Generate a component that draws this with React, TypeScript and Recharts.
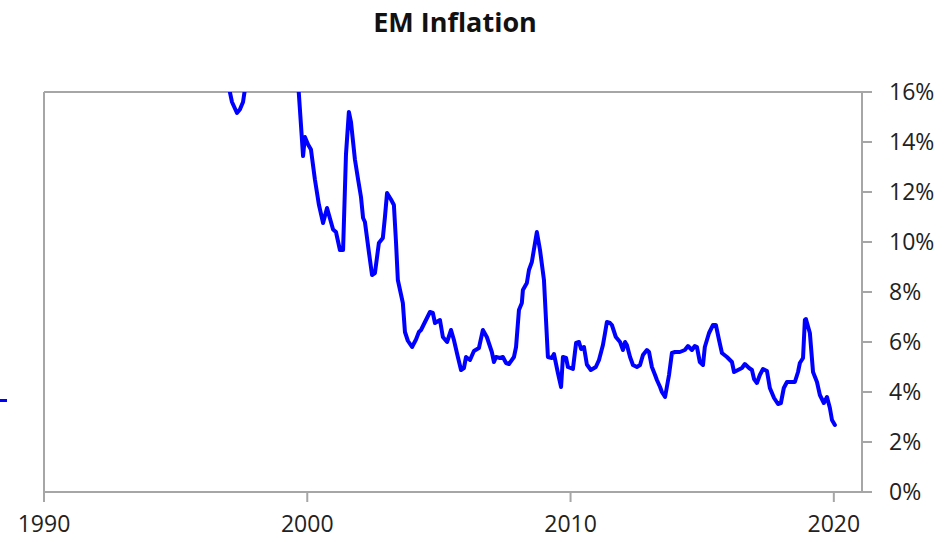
import { LineChart, Line, XAxis, YAxis, ReferenceLine } from 'recharts'

// EM inflation, % y/y (decimal year)
const years = [
  1996.0, 1996.5, 1996.9, 1997.0, 1997.14, 1997.33, 1997.44, 1997.56, 1997.63, 1997.82,
  1998.2, 1998.6, 1999.0, 1999.34, 1999.65, 1999.84, 1999.91, 2000.03, 2000.14, 2000.29,
  2000.44, 2000.6, 2000.75, 2000.98, 2001.09, 2001.24, 2001.36, 2001.47, 2001.58, 2001.66,
  2001.81, 2001.93, 2002.04, 2002.12, 2002.19, 2002.34, 2002.46, 2002.57, 2002.72, 2002.87,
  2002.95, 2003.03, 2003.18, 2003.29, 2003.37, 2003.44, 2003.56, 2003.63, 2003.71, 2003.82,
  2003.98, 2004.13, 2004.24, 2004.32, 2004.47, 2004.66, 2004.77, 2004.85, 2005.04, 2005.15,
  2005.31, 2005.46, 2005.57, 2005.72, 2005.84, 2005.95, 2006.03, 2006.18, 2006.33, 2006.52,
  2006.67, 2006.82, 2007.01, 2007.09, 2007.17, 2007.32, 2007.43, 2007.55, 2007.66, 2007.85,
  2007.93, 2008.04, 2008.15, 2008.19, 2008.34, 2008.42, 2008.53, 2008.65, 2008.72, 2008.84,
  2008.99, 2009.14, 2009.29, 2009.37, 2009.52, 2009.64, 2009.71, 2009.83, 2009.9, 2010.09,
  2010.21, 2010.32, 2010.4, 2010.51, 2010.62, 2010.77, 2010.96, 2011.08, 2011.23, 2011.31,
  2011.38, 2011.5, 2011.57, 2011.72, 2011.88, 2011.99, 2012.07, 2012.14, 2012.26, 2012.37,
  2012.52, 2012.64, 2012.75, 2012.9, 2012.98, 2013.09, 2013.21, 2013.28, 2013.4, 2013.47,
  2013.59, 2013.74, 2013.85, 2013.97, 2014.15, 2014.34, 2014.46, 2014.61, 2014.72, 2014.8,
  2014.91, 2015.03, 2015.1, 2015.26, 2015.41, 2015.52, 2015.64, 2015.75, 2015.94, 2016.13,
  2016.21, 2016.36, 2016.51, 2016.62, 2016.78, 2016.89, 2016.97, 2017.08, 2017.19, 2017.31,
  2017.46, 2017.57, 2017.73, 2017.88, 2017.99, 2018.1, 2018.22, 2018.37, 2018.52, 2018.64,
  2018.71, 2018.83, 2018.9, 2018.94, 2019.09, 2019.21, 2019.36, 2019.47, 2019.62, 2019.74,
  2019.85, 2019.93, 2020.04,
]

const inflation = [
  22.0, 19.5, 17.2, 16.3, 15.6, 15.16, 15.3, 15.6, 16.1, 17.5,
  19.0, 20.5, 19.5, 17.6, 16.4, 13.44, 14.2, 13.9, 13.7, 12.5,
  11.5, 10.76, 11.36, 10.5, 10.4, 9.68, 9.68, 13.5, 15.2, 14.8,
  13.3, 12.5, 11.8, 10.96, 10.8, 9.6, 8.68, 8.76, 9.96, 10.16,
  11.0, 11.96, 11.7, 11.48, 10.0, 8.48, 7.9, 7.56, 6.4, 6.05,
  5.8, 6.1, 6.4, 6.48, 6.8, 7.2, 7.16, 6.76, 6.88, 6.2,
  6.0, 6.48, 6.08, 5.4, 4.88, 4.96, 5.4, 5.28, 5.64, 5.76,
  6.48, 6.2, 5.6, 5.2, 5.4, 5.36, 5.4, 5.16, 5.12, 5.4,
  5.8, 7.28, 7.56, 8.08, 8.36, 8.88, 9.2, 9.96, 10.4, 9.68,
  8.48, 5.4, 5.36, 5.52, 4.76, 4.2, 5.4, 5.36, 5.0, 4.92,
  5.96, 6.0, 5.72, 5.8, 5.1, 4.88, 5.0, 5.28, 5.88, 6.36,
  6.8, 6.76, 6.68, 6.2, 6.0, 5.68, 6.0, 5.88, 5.4, 5.08,
  5.0, 5.08, 5.48, 5.68, 5.6, 5.0, 4.68, 4.48, 4.2, 4.0,
  3.8, 4.68, 5.56, 5.6, 5.6, 5.68, 5.84, 5.68, 5.84, 5.8,
  5.2, 5.08, 5.8, 6.36, 6.68, 6.68, 6.08, 5.56, 5.4, 5.2,
  4.8, 4.88, 4.96, 5.12, 4.96, 4.88, 4.52, 4.36, 4.68, 4.92,
  4.84, 4.16, 3.76, 3.52, 3.56, 4.16, 4.4, 4.4, 4.4, 4.8,
  5.16, 5.36, 6.88, 6.92, 6.36, 4.8, 4.4, 3.88, 3.56, 3.8,
  3.36, 2.88, 2.68,
]

const xTicks = [1990, 2000, 2010, 2020]
const yTicks = [0, 2, 4, 6, 8, 10, 12, 14, 16]

const data = years.map((year, i) => ({ year, value: inflation[i] }))

const FONT = '"Open Sans", "Noto Sans", sans-serif'
const AXIS = '#a6a6a6'

export default function App() {
  return (
    <div style={{ position: 'absolute', left: 0, top: 0, width: 949, height: 542, background: '#fff', fontFamily: FONT }}>
      <div style={{
        position: 'absolute', top: 3, left: 0, width: 910, textAlign: 'center',
        fontSize: 27, fontWeight: 700, color: '#111',
      }}>EM Inflation</div>
      <div style={{ position: 'absolute', left: 0, top: 399, width: 7, height: 3, background: '#0000ff' }} />

      <LineChart width={949} height={542} data={data} margin={{ top: 92, right: 7, bottom: 10, left: 44 }}>
        <XAxis
          dataKey="year" type="number" domain={[1990, 2021.07]} ticks={xTicks}
          axisLine={{ stroke: AXIS, strokeWidth: 2 }} tickLine={{ stroke: AXIS, strokeWidth: 2 }}
          tickSize={10} tickMargin={14} height={40}
          tick={{ fontSize: 23, fill: '#222', fontFamily: FONT }}
        />
        <YAxis
          orientation="right" domain={[0, 16]} ticks={yTicks} allowDataOverflow
          axisLine={{ stroke: AXIS, strokeWidth: 2 }} tickLine={{ stroke: AXIS, strokeWidth: 2 }}
          tickSize={10} tickMargin={17} width={80}
          tickFormatter={(v) => `${v}%`}
          tick={{ fontSize: 23, fill: '#222', fontFamily: FONT, textAnchor: 'start' }}
        />
        <ReferenceLine y={16} stroke={AXIS} strokeWidth={2} />
        <ReferenceLine x={1990} stroke={AXIS} strokeWidth={2} />
        <Line
          type="linear" dataKey="value" stroke="#0000ff" strokeWidth={4}
          strokeLinejoin="round" strokeLinecap="round"
          dot={false} isAnimationActive={false}
        />
      </LineChart>
    </div>
  )
}
